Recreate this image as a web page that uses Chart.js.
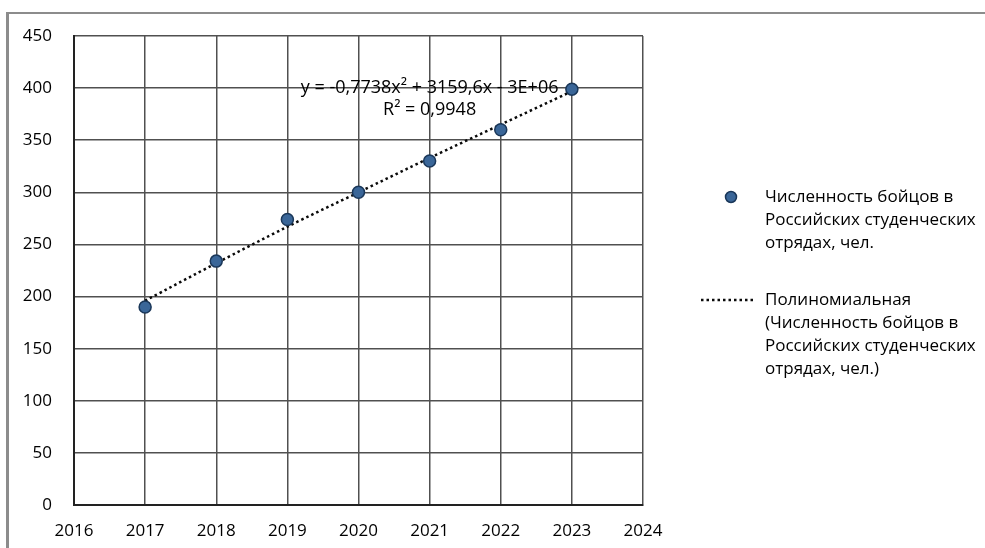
<!DOCTYPE html>
<html>
<head>
<meta charset="utf-8">
<script src="https://cdn.jsdelivr.net/npm/chart.js@4"></script>
<style>
    html, body { margin: 0; padding: 0; background: #fff; }
    #wrap { position: absolute; left: 0; top: 0; width: 985px; height: 548px; overflow: hidden; }
    #frame { position: absolute; left: 6px; top: 12px; width: 990px; height: 560px;
             border-left: 3px solid #8c8c8c; border-top: 2px solid #8c8c8c; }
    #chart { position: absolute; left: 0; top: 0; }
</style>
</head>
<body>
<div id="wrap">
    <div id="frame"></div>
    <canvas id="chart" width="985" height="548"></canvas>
</div>
<script>
// DATA
const years = [2017, 2018, 2019, 2020, 2021, 2022, 2023];
const fighters = [190, 234, 274, 300, 330, 360, 399];
// polynomial trend line
const trend = [196, 232, 267, 300, 333, 365, 397];

const xMin = 2016, xMax = 2024, xStep = 1;
const yMin = 0, yMax = 450, yStep = 50;

const equation = ["y = -0,7738x² + 3159,6x - 3E+06", "R² = 0,9948"];
const eqAnchor = { x: 2021, y: 400 };

const seriesLabel = ["Численность бойцов в", "Российских студенческих", "отрядах, чел."];
const trendLabel = ["Полиномиальная", "(Численность бойцов в", "Российских студенческих", "отрядах, чел.)"];

const FONT = "'Open Sans', 'DejaVu Sans', sans-serif";
const POINT_FILL = "#3a6698";
const POINT_EDGE = "#1a3759";

// EXTRA DRAWING: equation + legend
const extras = {
    id: "extras",
    afterDatasetsDraw(chart) {
        const c = chart.ctx;
        const xs = chart.scales.x, ys = chart.scales.y;

        c.save();
        c.font = "18px " + FONT;
        c.fillStyle = "#000";
        c.textAlign = "center";
        c.textBaseline = "middle";
        const ex = xs.getPixelForValue(eqAnchor.x);
        const ey = ys.getPixelForValue(eqAnchor.y);
        c.fillText(equation[0], ex, ey);
        c.fillText(equation[1], ex, ey + 22);

        // legend
        c.font = "17px " + FONT;
        c.textAlign = "left";
        const lineH = 23;
        let ty = 197;
        c.beginPath();
        c.arc(731, ty, 5.5, 0, Math.PI * 2);
        c.fillStyle = POINT_FILL;
        c.fill();
        c.lineWidth = 1.5;
        c.strokeStyle = POINT_EDGE;
        c.stroke();
        c.fillStyle = "#000";
        seriesLabel.forEach((t, i) => c.fillText(t, 765, ty + i * lineH));

        ty = 300;
        c.beginPath();
        c.setLineDash([2.5, 3]);
        c.lineWidth = 2.5;
        c.strokeStyle = "#0a0a0a";
        c.moveTo(701, ty);
        c.lineTo(754, ty);
        c.stroke();
        c.setLineDash([]);
        trendLabel.forEach((t, i) => c.fillText(t, 765, ty + i * lineH));
        c.restore();
    }
};

new Chart(document.getElementById("chart"), {
    type: "scatter",
    data: {
        datasets: [{
            label: seriesLabel.join(" "),
            data: years.map((y, i) => ({ x: y, y: fighters[i] })),
            pointRadius: 6,
            pointBackgroundColor: POINT_FILL,
            pointBorderColor: POINT_EDGE,
            pointBorderWidth: 1.5,
            showLine: false
        }, {
            label: trendLabel.join(" "),
            data: years.map((y, i) => ({ x: y, y: trend[i] })),
            showLine: true,
            pointRadius: 0,
            borderColor: "#0a0a0a",
            borderWidth: 2.5,
            borderDash: [2.5, 3],
            tension: 0.3
        }]
    },
    options: {
        responsive: false,
        animation: false,
        layout: { padding: { top: 36, right: 342, left: 0, bottom: 0 } },
        plugins: { legend: { display: false }, tooltip: { enabled: false } },
        scales: {
            x: {
                type: "linear",
                min: xMin, max: xMax,
                afterFit: s => { s.height = 43; },
                grid: { color: "#505050", lineWidth: 1.5, drawTicks: false },
                border: { color: "#222", width: 2 },
                ticks: {
                    stepSize: xStep, padding: 16, color: "#000",
                    font: { family: FONT, size: 17 },
                    callback: v => String(v)
                }
            },
            y: {
                min: yMin, max: yMax,
                afterFit: s => { s.width = 74; },
                grid: { color: "#505050", lineWidth: 1.5, drawTicks: false },
                border: { color: "#222", width: 2 },
                ticks: {
                    stepSize: yStep, padding: 22, color: "#000",
                    font: { family: FONT, size: 17 }
                }
            }
        }
    },
    plugins: [extras]
});
</script>
</body>
</html>
